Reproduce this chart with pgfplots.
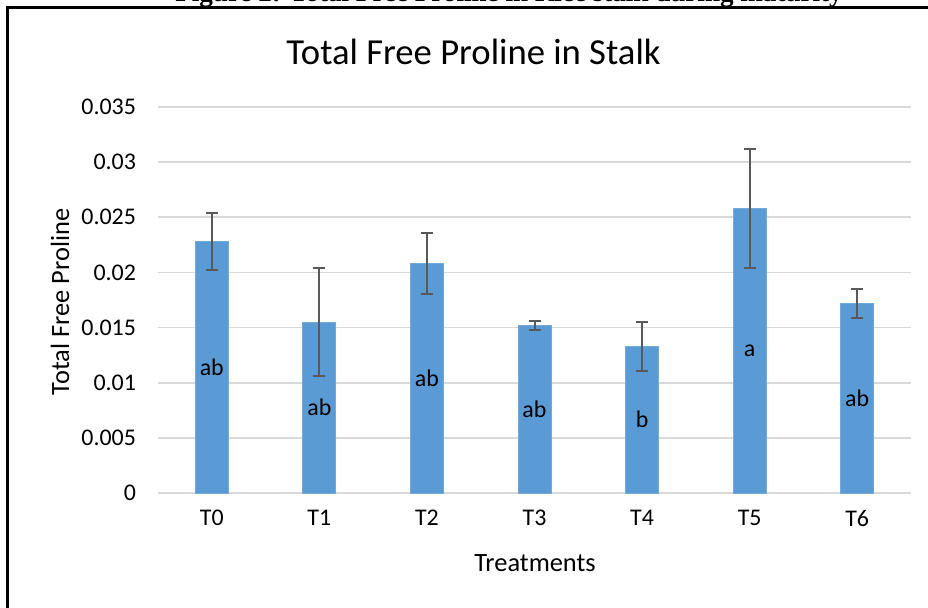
\documentclass[border=0pt]{standalone}
\usepackage{pgfplots}
\pgfplotsset{compat=1.18}
\usepackage{fontspec}
\setmainfont{Carlito}
\newfontfamily\capfont{Liberation Serif}
\definecolor{barblue}{HTML}{5B9BD5}
\definecolor{gridgray}{HTML}{D9D9D9}
\definecolor{errgray}{HTML}{595959}
\begin{document}
\begin{tikzpicture}
\useasboundingbox (0,0) rectangle (464bp,304bp);
\node[anchor=base, inner sep=0pt, font=\capfont\bfseries\fontsize{13.6}{15}\selectfont] at (254.5bp,303.2bp) {Figure 2: Total Free Proline in Rice stalk during maturity};
\draw[line width=1.5bp] (3.75bp,-10bp) -- (3.75bp,300bp) -- (480bp,300bp);
\begin{axis}[
  at={(79bp,57.5bp)}, anchor=south west,
  scale only axis, width=376.5bp, height=193bp,
  xmin=-0.5, xmax=6.5, ymin=0, ymax=0.035,
  axis line style={draw=none},
  ymajorgrids, grid style={gridgray, line width=0.9bp},
  major tick length=0pt,
  scaled y ticks=false,
  xtick={0,1,2,3,4,5,6},
  xticklabels={T0,T1,T2,T3,T4,T5,T6},
  ytick={0,0.005,0.01,0.015,0.02,0.025,0.03,0.035},
  yticklabels={0,0.005,0.01,0.015,0.02,0.025,0.03,0.035},
  tick label style={font=\fontsize{12}{14}\selectfont, text=black},
  yticklabel style={xshift=-7.5bp},
  xticklabel style={yshift=-5bp},
  ybar, bar width=16.5bp,
  clip=false,
]
\addplot[fill=barblue, draw=barblue!85!white, line width=0.4bp,
  error bars/.cd, y dir=both, y explicit,
  error bar style={line width=1bp, errgray},
  error mark options={rotate=90, mark size=3bp, line width=1bp, errgray}]
coordinates {
  (0,0.0228) +- (0,0.00255)
  (1,0.0155) +- (0,0.0049)
  (2,0.0208) +- (0,0.0028)
  (3,0.0152) +- (0,0.00044)
  (4,0.0133) +- (0,0.0022)
  (5,0.0258) +- (0,0.0054)
  (6,0.0172) +- (0,0.0013)
};
\begin{scope}[font=\fontsize{12}{14}\selectfont]
\node at (axis cs:0,0.0114) {ab};
\node at (axis cs:1,0.00775) {ab};
\node at (axis cs:2,0.0104) {ab};
\node at (axis cs:3,0.0076) {ab};
\node at (axis cs:4,0.00665) {b};
\node at (axis cs:5,0.0129) {a};
\node at (axis cs:6,0.0086) {ab};
\end{scope}
\end{axis}
\node[font=\fontsize{18.4}{22}\selectfont] at (236.75bp,278bp) {Total Free Proline in Stalk};
\node[font=\fontsize{13.25}{16}\selectfont] at (267.5bp,22.5bp) {Treatments};
\node[rotate=90, font=\fontsize{13.25}{16}\selectfont] at (30bp,153bp) {Total Free Proline};
\end{tikzpicture}
\end{document}
